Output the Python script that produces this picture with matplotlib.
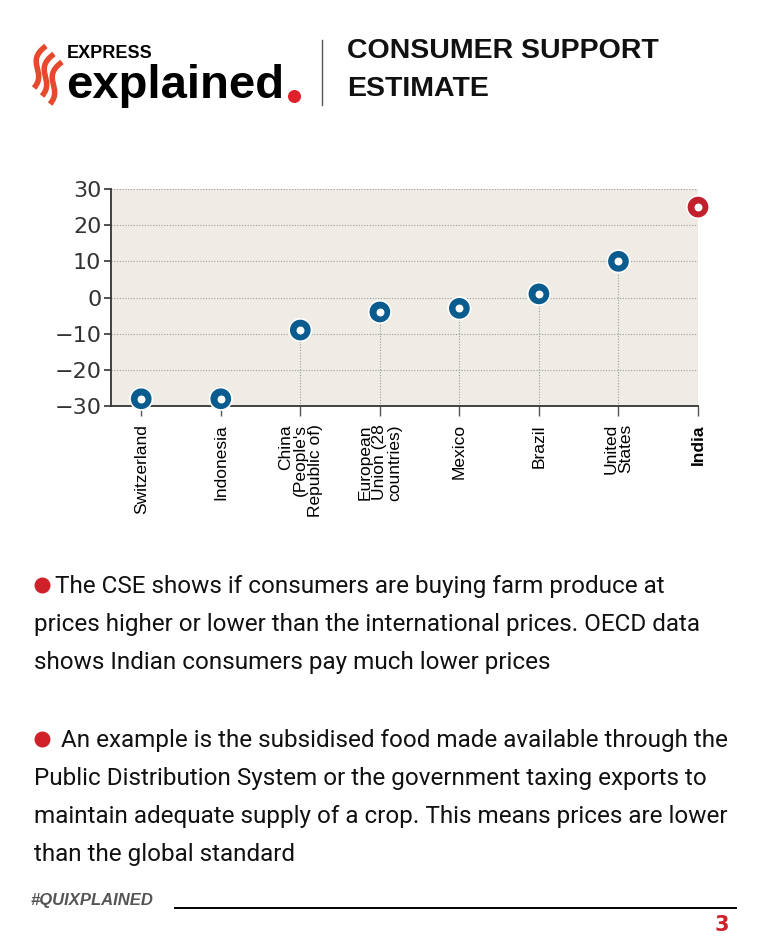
import matplotlib
matplotlib.use("Agg")
import matplotlib.pyplot as plt
from matplotlib.path import Path
from matplotlib.patches import PathPatch

countries = ["Switzerland", "Indonesia", "China\n(People's\nRepublic of)",
             "European\nUnion (28\ncountries)", "Mexico", "Brazil",
             "United\nStates", "India"]
cse = [-28, -28, -9, -4, -3, 1, 10, 25]
yticks = [-30, -20, -10, 0, 10, 20, 30]
highlight = "India"

BLUE = "#0b5c8e"
RED = "#c3202e"
BG = "#eeece5"

W, H = 759, 949
fig = plt.figure(figsize=(W / 100, H / 100), dpi=100)
fig.patch.set_facecolor("white")

# overlay in pixel coords for the decorations
deco = fig.add_axes([0, 0, 1, 1], zorder=5)
deco.set_xlim(0, W)
deco.set_ylim(H, 0)
deco.axis("off")
deco.patch.set_alpha(0)

# main chart
ax = fig.add_axes([111 / W, 1 - 406 / H, (698 - 111) / W, (406 - 189) / H])
ax.set_facecolor(BG)
xs = list(range(len(countries)))
ax.set_xlim(-0.38, len(countries) - 1)
ax.set_ylim(-30, 30)
for y in yticks:
    ax.axhline(y, color="#9a9a9a", lw=0.8, ls=(0, (1, 1.5)), zorder=1)
ax.vlines(xs, -30, cse, color="#9a9a9a", lw=0.8, ls=(0, (1, 1.5)), zorder=1)
cols = [RED if c == highlight else BLUE for c in countries]
ax.scatter(xs, cse, s=260, c=cols, edgecolors="white", linewidths=1.2, zorder=3, clip_on=False)
ax.scatter(xs, cse, s=22, c="white", zorder=4, clip_on=False)

for side in ["top", "right"]:
    ax.spines[side].set_visible(False)
for side in ["left", "bottom"]:
    ax.spines[side].set_color("#333333")
    ax.spines[side].set_linewidth(1.3)
ax.set_yticks(yticks)
ax.set_yticklabels([str(v).replace("-", "\u2212") for v in yticks],
                   fontsize=16, family="DejaVu Sans", color="#333333")
ax.tick_params(axis="y", length=5, width=1.2, color="#333333", pad=2)
ax.set_xticks(xs)
ax.set_xticklabels(countries, rotation=90, fontsize=12.5, family="Liberation Sans",
                   ha="center", va="top", multialignment="right", linespacing=1.0)
ax.tick_params(axis="x", length=7, width=1, color="#555555", pad=6)
for lab in ax.get_xticklabels():
    if lab.get_text() == highlight:
        lab.set_fontweight("bold")

# header: flame logo (three S-shaped stripes)
flame = "#e64a2e"
for k in range(3):
    dx, dy = 8 * k, 8 * k
    verts = [(46 + dx, 46 + dy), (24 + dx, 62 + dy), (48 + dx, 72 + dy), (34 + dx, 88 + dy)]
    p = Path(verts, [Path.MOVETO, Path.CURVE4, Path.CURVE4, Path.CURVE4])
    deco.add_patch(PathPatch(p, fill=False, lw=4, ec=flame, capstyle="butt"))
fig.text(67 / W, 1 - 53 / H, "EXPRESS", fontsize=13, fontweight="bold",
         family="Liberation Sans", va="center", color="black")
fig.text(66 / W, 1 - 98 / H, "explained", fontsize=34, fontweight="bold",
         family="Liberation Sans", va="baseline", color="black")
deco.scatter([294], [96], s=70, color="#e0202a", zorder=6)
deco.plot([322, 322], [40, 105], color="#555555", lw=1)
fig.text(347 / W, 1 - 51 / H, "CONSUMER SUPPORT", fontsize=20.5, fontweight="bold",
         family="Liberation Sans", va="center", color="#111111")
fig.text(347 / W, 1 - 89 / H, "ESTIMATE", fontsize=20.5, fontweight="bold",
         family="Liberation Sans", va="center", color="#111111")

# notes
para1 = ["The CSE shows if consumers are buying farm produce at",
         "prices higher or lower than the international prices. OECD data",
         "shows Indian consumers pay much lower prices"]
para2 = [" An example is the subsidised food made available through the",
         "Public Distribution System or the government taxing exports to",
         "maintain adequate supply of a crop. This means prices are lower",
         "than the global standard"]
for i, line in enumerate(para1):
    x0 = 55 if i == 0 else 34
    fig.text(x0 / W, 1 - (587 + 38 * i) / H, line, fontsize=17.5, family="Roboto",
             va="center", color="#111111")
for i, line in enumerate(para2):
    x0 = 55 if i == 0 else 34
    fig.text(x0 / W, 1 - (741 + 38 * i) / H, line, fontsize=17.5, family="Roboto",
             va="center", color="#111111")
deco.scatter([42, 42], [585, 739], s=110, color="#d0202a", zorder=6)

# footer
fig.text(30 / W, 1 - 901 / H, "#QUIXPLAINED", fontsize=12, fontweight="bold",
         style="italic", family="Liberation Sans", va="center", color="#555555")
deco.plot([175, 736], [908, 908], color="black", lw=1.4)
fig.text(729 / W, 1 - 925 / H, "3", fontsize=15, fontweight="bold",
         family="DejaVu Sans", ha="right", va="center", color="#d0202a")

fig.savefig("out.png", dpi=100)
